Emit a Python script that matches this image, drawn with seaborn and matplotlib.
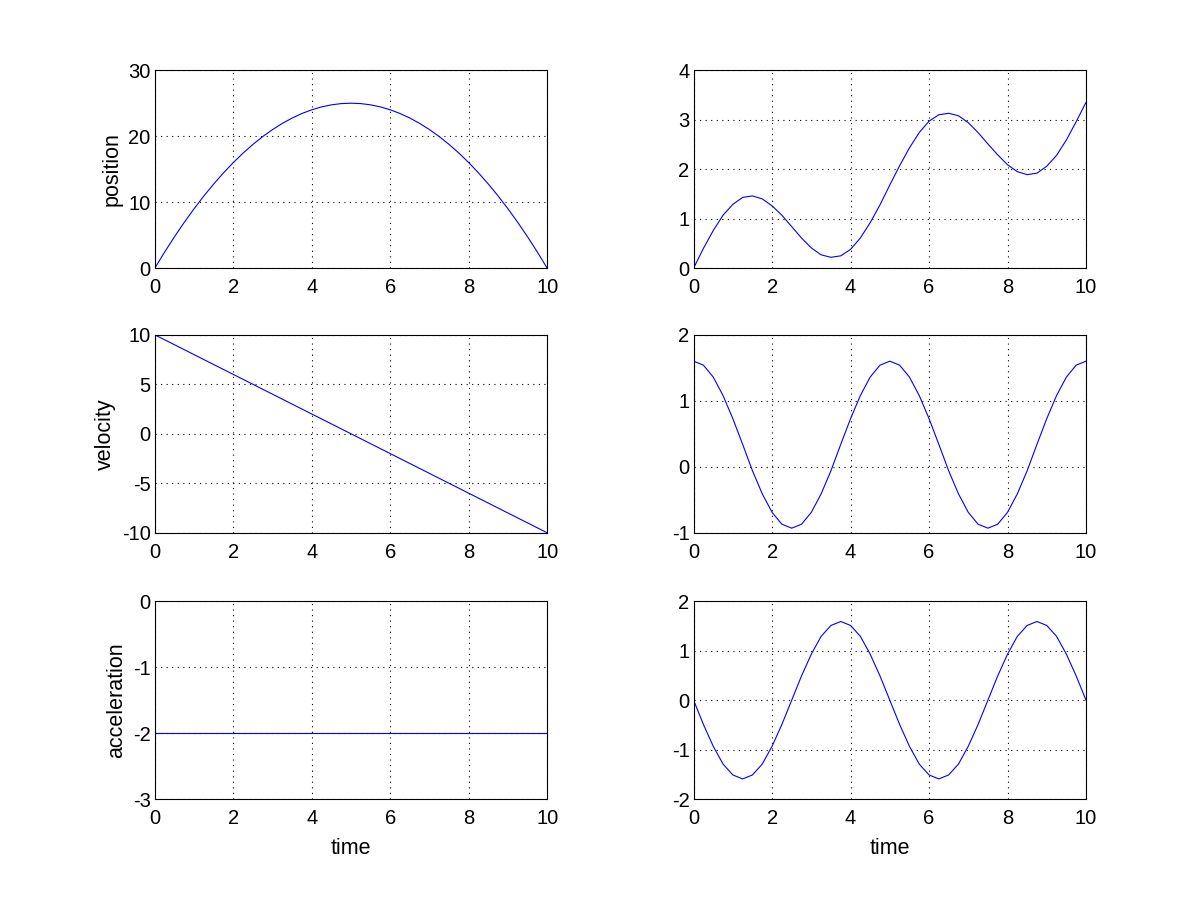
import matplotlib
matplotlib.use("Agg")
import matplotlib.pyplot as plt
import pandas as pd
import seaborn as sns

# sample times
time = [0.0, 0.25, 0.5, 0.75, 1.0, 1.25, 1.5, 1.75, 2.0, 2.25, 2.5, 2.75, 3.0, 3.25,
        3.5, 3.75, 4.0, 4.25, 4.5, 4.75, 5.0, 5.25, 5.5, 5.75, 6.0, 6.25, 6.5, 6.75,
        7.0, 7.25, 7.5, 7.75, 8.0, 8.25, 8.5, 8.75, 9.0, 9.25, 9.5, 9.75, 10.0]

# left column
position_a = [0.0, 2.44, 4.75, 6.94, 9.0, 10.94, 12.75, 14.44, 16.0, 17.44, 18.75, 19.94,
              21.0, 21.94, 22.75, 23.44, 24.0, 24.44, 24.75, 24.94, 25.0, 24.94, 24.75,
              24.44, 24.0, 23.44, 22.75, 21.94, 21.0, 19.94, 18.75, 17.44, 16.0, 14.44,
              12.75, 10.94, 9.0, 6.94, 4.75, 2.44, 0.0]
velocity_a = [10.0, 9.5, 9.0, 8.5, 8.0, 7.5, 7.0, 6.5, 6.0, 5.5, 5.0, 4.5, 4.0, 3.5, 3.0,
              2.5, 2.0, 1.5, 1.0, 0.5, 0.0, -0.5, -1.0, -1.5, -2.0, -2.5, -3.0, -3.5, -4.0,
              -4.5, -5.0, -5.5, -6.0, -6.5, -7.0, -7.5, -8.0, -8.5, -9.0, -9.5, -10.0]
accel_a = [-2.0, -2.0, -2.0, -2.0, -2.0, -2.0, -2.0, -2.0, -2.0, -2.0, -2.0, -2.0, -2.0,
           -2.0, -2.0, -2.0, -2.0, -2.0, -2.0, -2.0, -2.0, -2.0, -2.0, -2.0, -2.0, -2.0,
           -2.0, -2.0, -2.0, -2.0, -2.0, -2.0, -2.0, -2.0, -2.0, -2.0, -2.0, -2.0, -2.0,
           -2.0, -2.0]

# right column
position_b = [0.0, 0.40, 0.76, 1.07, 1.29, 1.43, 1.46, 1.40, 1.26, 1.07, 0.84, 0.61, 0.41,
              0.27, 0.22, 0.25, 0.38, 0.61, 0.92, 1.28, 1.68, 2.07, 2.43, 2.74, 2.97, 3.10,
              3.13, 3.08, 2.94, 2.74, 2.51, 2.29, 2.09, 1.95, 1.89, 1.92, 2.06, 2.28, 2.59,
              2.96, 3.35]
velocity_b = [1.60, 1.54, 1.36, 1.08, 0.73, 0.34, -0.06, -0.41, -0.69, -0.87, -0.93, -0.87,
              -0.69, -0.41, -0.06, 0.34, 0.73, 1.08, 1.36, 1.54, 1.60, 1.54, 1.36, 1.08,
              0.73, 0.34, -0.06, -0.41, -0.69, -0.87, -0.93, -0.87, -0.69, -0.41, -0.06,
              0.34, 0.73, 1.08, 1.36, 1.54, 1.60]
accel_b = [0.0, -0.49, -0.93, -1.29, -1.51, -1.59, -1.51, -1.29, -0.93, -0.49, 0.0, 0.49,
           0.93, 1.29, 1.51, 1.59, 1.51, 1.29, 0.93, 0.49, 0.0, -0.49, -0.93, -1.29, -1.51,
           -1.59, -1.51, -1.29, -0.93, -0.49, 0.0, 0.49, 0.93, 1.29, 1.51, 1.59, 1.51, 1.29,
           0.93, 0.49, 0.0]

ylims = [(0, 30), (0, 4), (-10, 10), (-1, 2), (-3, 0), (-2, 2)]
yticks = [[0, 10, 20, 30], [0, 1, 2, 3, 4], [-10, -5, 0, 5, 10], [-1, 0, 1, 2],
          [-3, -2, -1, 0], [-2, -1, 0, 1, 2]]
ylabels = ["position", "", "velocity", "", "acceleration", ""]
series = [position_a, position_b, velocity_a, velocity_b, accel_a, accel_b]

sns.set_style("white")
plt.rcParams["font.family"] = ["Liberation Sans", "DejaVu Sans"]
plt.rcParams["font.size"] = 14
plt.rcParams["axes.unicode_minus"] = False
plt.rcParams["axes.labelcolor"] = "black"
plt.rcParams["text.color"] = "black"

fig = plt.figure(figsize=(12, 9), dpi=100)
fig.patch.set_facecolor("white")

lefts = [0.129, 0.578]
bottoms = [0.702, 0.408, 0.112]
w, h = 0.327, 0.22

for i, vals in enumerate(series):
    row, col = i // 2, i % 2
    ax = fig.add_axes([lefts[col], bottoms[row], w, h])
    df = pd.DataFrame({"t": time, "v": vals})
    sns.lineplot(data=df, x="t", y="v", ax=ax, color="#0000ff", linewidth=0.8)
    ax.set_xlim(0, 10)
    ax.set_ylim(*ylims[i])
    ax.set_xticks([0, 2, 4, 6, 8, 10])
    ax.set_yticks(yticks[i])
    ax.grid(True, color="black", linestyle=(0, (1, 4)), linewidth=0.8)
    ax.tick_params(direction="in", length=0, labelsize=14.5, colors="black")
    ax.tick_params(axis="x", pad=7)
    ax.tick_params(axis="y", pad=3)
    for sp in ax.spines.values():
        sp.set_visible(True)
        sp.set_color("black")
        sp.set_linewidth(0.8)
    ax.set_ylabel(ylabels[i], fontsize=15.5, labelpad=4, color="black")
    ax.set_xlabel("time" if row == 2 else "", fontsize=15.5, labelpad=7, color="black")

plt.savefig("out.png", dpi=100, facecolor="white")
plt.close("all")
